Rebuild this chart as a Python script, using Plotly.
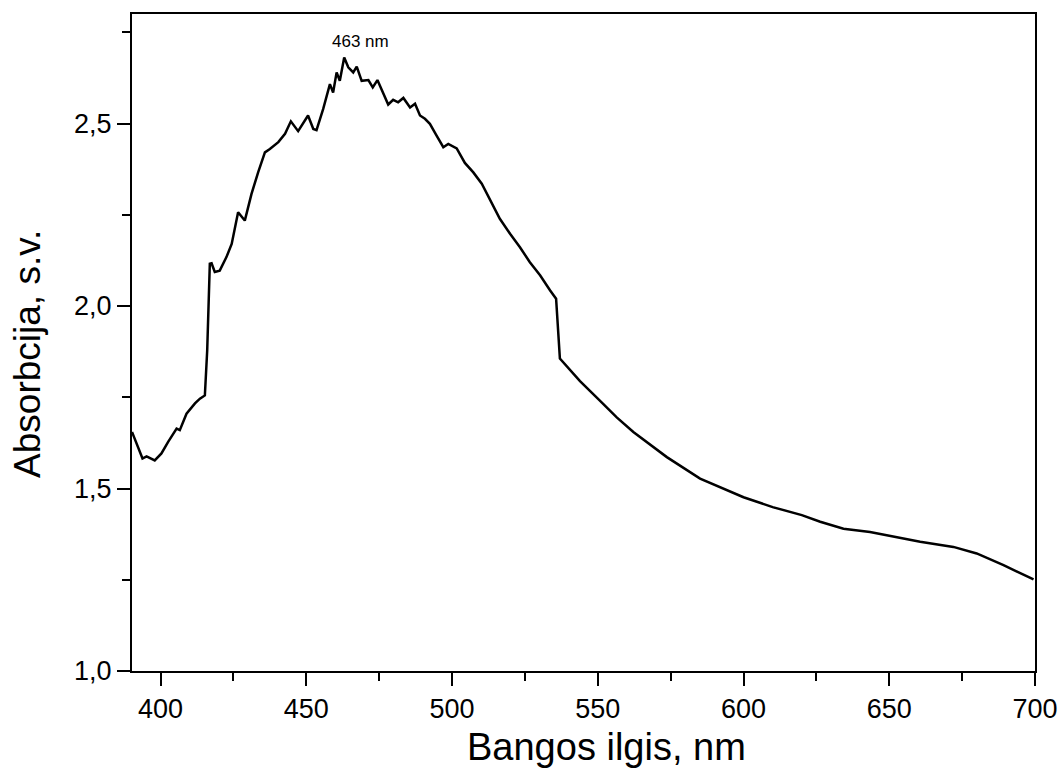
import plotly.graph_objects as go

wavelength_nm = [
    390.2, 391.8, 393.8, 395.2, 398.0, 400.3, 402.6, 405.5, 406.6, 408.9,
    411.8, 413.5, 415.2, 416.0, 416.9, 417.5, 418.6, 420.3, 422.6, 424.4,
    426.6, 428.9, 431.2, 433.5, 435.8, 437.5, 440.4, 442.7, 444.7, 447.2,
    449.0, 450.6, 452.4, 453.5, 455.8, 458.1, 459.2, 460.4, 461.5, 463.0,
    464.4, 466.1, 467.3, 469.0, 471.3, 472.8, 474.4, 476.4, 478.1, 479.8,
    481.5, 483.3, 485.6, 487.3, 489.0, 490.7, 492.4, 494.7, 497.0, 498.7,
    501.6, 504.4, 507.3, 510.2, 513.6, 516.4, 519.9, 523.3, 526.7, 530.2,
    533.6, 535.7, 537.0, 540.5, 543.9, 550.8, 556.5, 562.2, 573.7, 585.1,
    600.0, 610.0, 620.0, 626.3, 634.3, 643.4, 651.4, 660.6, 672.0, 680.0,
    689.2, 699.5,
]
absorbance = [
    1.655, 1.623, 1.582, 1.588, 1.577, 1.596, 1.628, 1.664, 1.660, 1.705,
    1.733, 1.746, 1.755, 1.878, 2.116, 2.117, 2.093, 2.097, 2.134, 2.170,
    2.257, 2.234, 2.307, 2.367, 2.421, 2.430, 2.449, 2.472, 2.506, 2.479,
    2.503, 2.522, 2.485, 2.482, 2.540, 2.608, 2.585, 2.640, 2.617, 2.681,
    2.654, 2.640, 2.656, 2.617, 2.619, 2.599, 2.619, 2.581, 2.552, 2.565,
    2.558, 2.570, 2.544, 2.554, 2.522, 2.513, 2.499, 2.467, 2.435, 2.444,
    2.432, 2.392, 2.366, 2.335, 2.284, 2.239, 2.198, 2.161, 2.120, 2.084,
    2.043, 2.020, 1.856, 1.824, 1.794, 1.740, 1.695, 1.655, 1.586, 1.527,
    1.476, 1.449, 1.427, 1.409, 1.390, 1.381, 1.368, 1.354, 1.340, 1.322,
    1.290, 1.251,
]
x_ticks = [400, 450, 500, 550, 600, 650, 700]
y_ticks = [1.0, 1.5, 2.0, 2.5]
x_title = "Bangos ilgis, nm"
y_title = "Absorbcija, s.v."
peak_label = "463 nm"
peak_label_pos = (468.6, 2.725)

FONT = "Liberation Sans, Arial, sans-serif"

fig = go.Figure()
fig.add_trace(go.Scatter(
    x=wavelength_nm, y=absorbance, mode="lines",
    line=dict(color="black", width=2.5), showlegend=False,
))
fig.add_annotation(
    x=peak_label_pos[0], y=peak_label_pos[1], text=peak_label, showarrow=False,
    font=dict(family=FONT, size=17, color="black"),
)
# axis titles (placed as paper annotations to match the original offsets)
fig.add_annotation(
    xref="paper", yref="paper", x=0.525, y=-0.115, text=x_title, showarrow=False,
    xanchor="center", yanchor="middle",
    font=dict(family=FONT, size=38, color="black"),
)
fig.add_annotation(
    xref="paper", yref="paper", x=-0.116, y=0.483, text=y_title, showarrow=False,
    textangle=-90, xanchor="center", yanchor="middle",
    font=dict(family=FONT, size=37, color="black"),
)

axis_common = dict(
    showline=True, linecolor="black", linewidth=2, mirror=True,
    ticks="outside", ticklen=13, tickwidth=2, tickcolor="black",
    showgrid=False, zeroline=False, automargin=False,
    tickfont=dict(family=FONT, size=27, color="black"),
)

fig.update_layout(
    width=1060, height=778,
    margin=dict(l=132, r=25, t=14, b=107),
    paper_bgcolor="white", plot_bgcolor="white",
    separators=", ",
    xaxis=dict(
        range=[390.2, 700], tickvals=x_ticks,
        minor=dict(dtick=25, tick0=400, ticks="outside", ticklen=8, tickwidth=2, tickcolor="black", showgrid=False),
        **axis_common,
    ),
    yaxis=dict(
        range=[1.0, 2.8], tickvals=y_ticks, tickformat=".1f",
        minor=dict(dtick=0.25, tick0=1.0, ticks="outside", ticklen=8, tickwidth=2, tickcolor="black", showgrid=False),
        **axis_common,
    ),
)

fig.write_html("out.html")
